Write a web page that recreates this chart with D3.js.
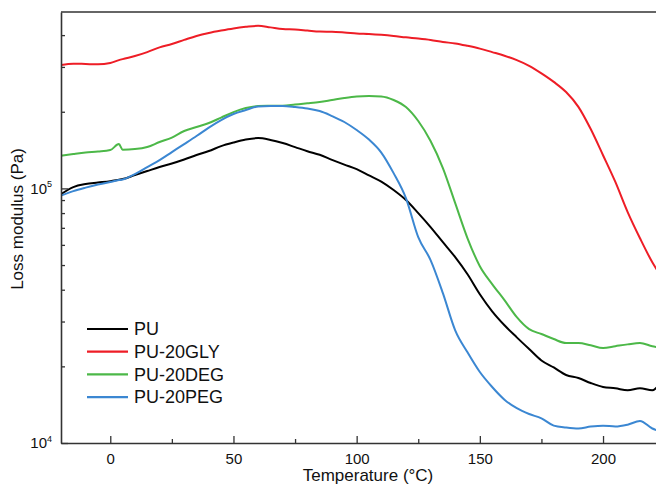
<!DOCTYPE html>
<html>
<head>
<meta charset="utf-8">
<script src="https://cdn.jsdelivr.net/npm/d3@7"></script>
<style>
  html, body { margin: 0; padding: 0; background: #fff; }
  svg { display: block; font-family: "Liberation Sans", Arial, sans-serif; }
</style>
</head>
<body>
<svg id="chart" width="656" height="484"></svg>
<script>
// ---------- data ----------
const temperature = [-20, -15, -10, -5, 0, 3.5, 5, 10, 15, 20, 25, 30, 35, 40, 45, 50, 55, 60, 65, 70, 75, 80, 85, 90, 95, 100,
  105, 110, 115, 120, 125, 130, 135, 140, 145, 150, 155, 160, 165, 170, 175, 180, 185, 190, 195, 200, 205, 210, 215, 220, 222];

const PU = [9.50e4, 1.012e5, 1.040e5, 1.054e5, 1.068e5, 1.082e5, 1.088e5, 1.128e5, 1.170e5, 1.213e5, 1.252e5, 1.298e5, 1.352e5, 1.402e5, 1.466e5, 1.514e5, 1.555e5, 1.576e5, 1.550e5, 1.507e5, 1.453e5, 1.400e5, 1.355e5, 1.295e5, 1.240e5, 1.190e5,
  1.125e5, 1.063e5, 9.85e4, 9.00e4, 8.00e4, 7.05e4, 6.15e4, 5.37e4, 4.60e4, 3.84e4, 3.29e4, 2.90e4, 2.60e4, 2.34e4, 2.11e4, 1.98e4, 1.85e4, 1.80e4, 1.72e4, 1.66e4, 1.64e4, 1.61e4, 1.64e4, 1.61e4, 1.66e4];

const PU20GLY = [3.05e5, 3.09e5, 3.08e5, 3.07e5, 3.11e5, 3.19e5, 3.22e5, 3.31e5, 3.43e5, 3.58e5, 3.69e5, 3.83e5, 3.97e5, 4.08e5, 4.17e5, 4.25e5, 4.31e5, 4.35e5, 4.29e5, 4.23e5, 4.21e5, 4.17e5, 4.13e5, 4.12e5, 4.10e5, 4.06e5,
  4.04e5, 4.01e5, 3.97e5, 3.92e5, 3.88e5, 3.83e5, 3.76e5, 3.71e5, 3.63e5, 3.54e5, 3.43e5, 3.32e5, 3.19e5, 3.03e5, 2.83e5, 2.62e5, 2.39e5, 2.09e5, 1.71e5, 1.35e5, 1.06e5, 8.07e4, 6.37e4, 5.13e4, 4.77e4];

const PU20DEG = [1.343e5, 1.364e5, 1.383e5, 1.395e5, 1.414e5, 1.493e5, 1.420e5, 1.427e5, 1.453e5, 1.521e5, 1.584e5, 1.680e5, 1.742e5, 1.806e5, 1.898e5, 1.994e5, 2.068e5, 2.106e5, 2.110e5, 2.112e5, 2.135e5, 2.158e5, 2.184e5, 2.224e5, 2.265e5, 2.296e5,
  2.306e5, 2.296e5, 2.224e5, 2.087e5, 1.839e5, 1.535e5, 1.202e5, 8.75e4, 6.37e4, 4.95e4, 4.21e4, 3.64e4, 3.12e4, 2.80e4, 2.68e4, 2.56e4, 2.47e4, 2.47e4, 2.42e4, 2.36e4, 2.40e4, 2.44e4, 2.47e4, 2.40e4, 2.38e4];

const PU20PEG = [9.37e4, 9.76e4, 1.007e5, 1.035e5, 1.059e5, 1.078e5, 1.083e5, 1.138e5, 1.213e5, 1.292e5, 1.389e5, 1.493e5, 1.606e5, 1.734e5, 1.856e5, 1.960e5, 2.031e5, 2.097e5, 2.106e5, 2.106e5, 2.087e5, 2.059e5, 2.013e5, 1.924e5, 1.823e5, 1.695e5,
  1.555e5, 1.383e5, 1.148e5, 9.16e4, 6.43e4, 5.23e4, 3.88e4, 2.77e4, 2.27e4, 1.90e4, 1.66e4, 1.48e4, 1.37e4, 1.30e4, 1.25e4, 1.17e4, 1.15e4, 1.14e4, 1.16e4, 1.17e4, 1.16e4, 1.18e4, 1.22e4, 1.14e4, 1.12e4];

const seriesNames = ["PU", "PU-20GLY", "PU-20DEG", "PU-20PEG"];
const seriesValues = [PU, PU20GLY, PU20DEG, PU20PEG];
const seriesColors = ["#000000", "#ee1d26", "#4cb848", "#3b87d2"];

const xMajorTicks = [0, 50, 100, 150, 200];
const xMinorTicks = [25, 75, 125, 175];
const yMajorTicks = [1e4, 1e5];
const yMajorLabels = ["4", "5"];   // exponents of 10
const yMinorTicks = [2e4, 3e4, 4e4, 5e4, 6e4, 7e4, 8e4, 9e4, 2e5, 3e5, 4e5];

const xTitle = "Temperature (°C)";
const yTitle = "Loss modulus (Pa)";

// ---------- layout ----------
const svg = d3.select("#chart");
const pLeft = 61, pRight = 656, pTop = 12, pBottom = 443;

const x = d3.scaleLinear().domain([-20, 221.5]).range([pLeft, pRight]);
const y = d3.scaleLog().domain([1e4, 4.93e5]).range([pBottom, pTop]);

const axisColor = "#333";

svg.append("defs").append("clipPath").attr("id", "plotclip")
  .append("rect").attr("x", pLeft).attr("y", pTop).attr("width", pRight - pLeft).attr("height", pBottom - pTop);

// data lines
const line = d3.line()
  .x((d, i) => x(temperature[i]))
  .y(d => y(d))
  .curve(d3.curveMonotoneX);

const gLines = svg.append("g").attr("clip-path", "url(#plotclip)");
seriesValues.forEach((vals, k) => {
  gLines.append("path")
    .attr("d", line(vals))
    .attr("fill", "none")
    .attr("stroke", seriesColors[k])
    .attr("stroke-width", 2)
    .attr("stroke-linejoin", "round");
});

// x axis (major)
const gx = svg.append("g").attr("transform", `translate(0,${pBottom})`)
  .call(d3.axisBottom(x).tickValues(xMajorTicks).tickSizeInner(-7).tickSizeOuter(0).tickPadding(10).tickFormat(d3.format("d")));
gx.select(".domain").attr("stroke", axisColor).attr("stroke-width", 1.6);
gx.selectAll(".tick line").attr("stroke", axisColor).attr("stroke-width", 1.3);
gx.selectAll(".tick text").attr("font-size", 15).attr("fill", "#111").attr("font-family", "Liberation Sans, Arial, sans-serif");

// x axis (minor)
const gxm = svg.append("g").attr("transform", `translate(0,${pBottom})`)
  .call(d3.axisBottom(x).tickValues(xMinorTicks).tickSizeInner(-4).tickSizeOuter(0).tickFormat(""));
gxm.select(".domain").remove();
gxm.selectAll(".tick line").attr("stroke", axisColor).attr("stroke-width", 1.3);

// y axis (major)
const gy = svg.append("g").attr("transform", `translate(${pLeft},0)`)
  .call(d3.axisLeft(y).tickValues(yMajorTicks).tickSizeInner(-7).tickSizeOuter(0).tickPadding(9).tickFormat(""));
gy.select(".domain").attr("stroke", axisColor).attr("stroke-width", 1.6);
gy.selectAll(".tick line").attr("stroke", axisColor).attr("stroke-width", 1.3);
gy.selectAll(".tick text").each(function(d, i) {
  const t = d3.select(this).attr("font-size", 15).attr("fill", "#111").attr("font-family", "Liberation Sans, Arial, sans-serif");
  t.append("tspan").text("10");
  t.append("tspan").attr("font-size", 9).attr("dy", "-0.7em").text(yMajorLabels[i]);
});

// y axis (minor)
const gym = svg.append("g").attr("transform", `translate(${pLeft},0)`)
  .call(d3.axisLeft(y).tickValues(yMinorTicks).tickSizeInner(-4).tickSizeOuter(0).tickFormat(""));
gym.select(".domain").remove();
gym.selectAll(".tick line").attr("stroke", axisColor).attr("stroke-width", 1.3);

// top frame
svg.append("line").attr("x1", pLeft).attr("x2", pRight).attr("y1", pTop).attr("y2", pTop)
  .attr("stroke", axisColor).attr("stroke-width", 1.6);

// axis titles
svg.append("text").attr("x", 368).attr("y", 481)
  .attr("text-anchor", "middle").attr("font-size", 17).attr("fill", "#111").text(xTitle);
svg.append("text").attr("transform", "translate(23,219) rotate(-90)")
  .attr("text-anchor", "middle").attr("font-size", 17).attr("fill", "#111").text(yTitle);

// legend
const lg = svg.append("g");
seriesNames.forEach((name, k) => {
  const cy = 329 + k * 22.7;
  lg.append("line").attr("x1", 87).attr("x2", 128).attr("y1", cy).attr("y2", cy)
    .attr("stroke", seriesColors[k]).attr("stroke-width", 2.2);
  lg.append("text").attr("x", 134).attr("y", cy).attr("dy", "0.35em")
    .attr("font-size", 18).attr("fill", "#111").text(name);
});
</script>
</body>
</html>
